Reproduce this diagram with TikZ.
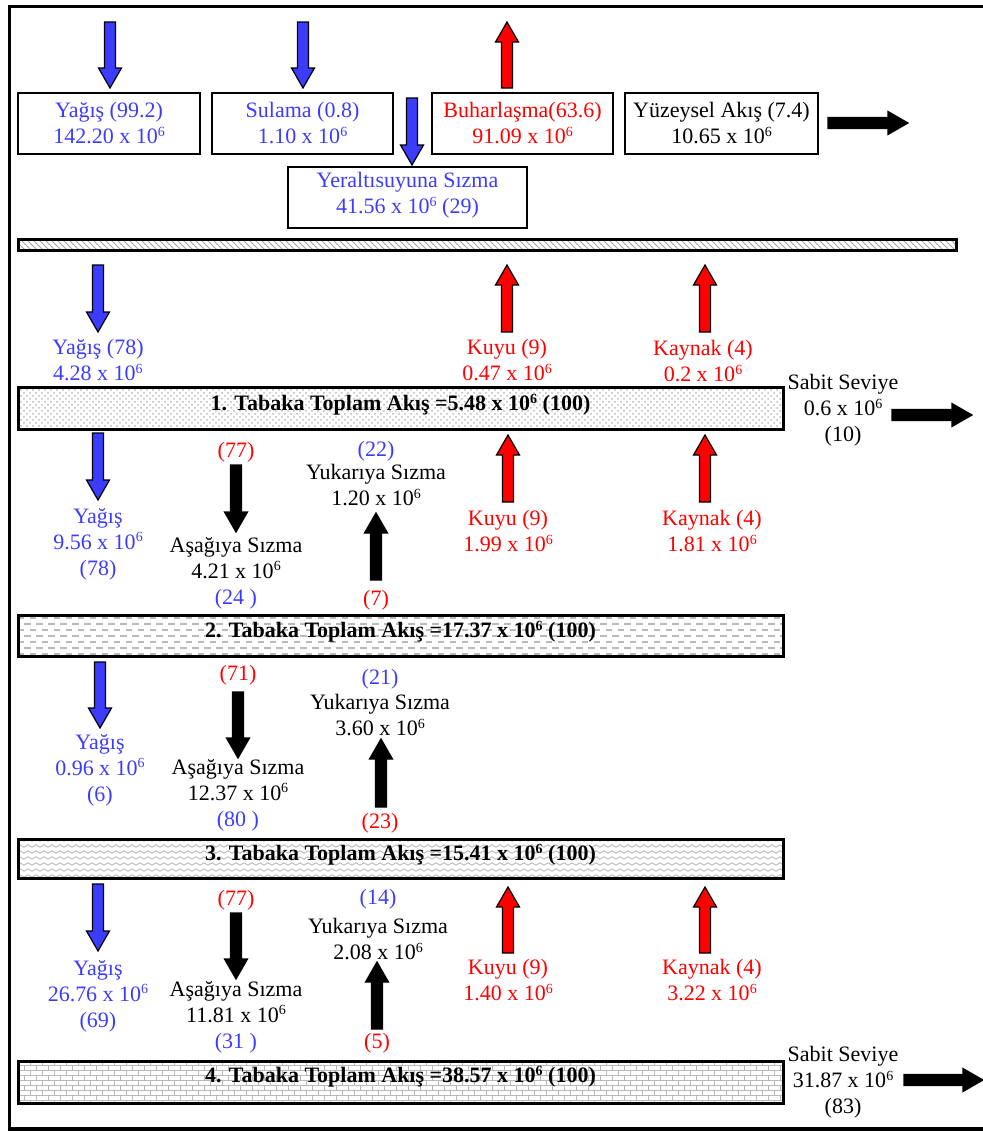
\documentclass[tikz,border=0pt]{standalone}
\usepackage{fontspec}
\setmainfont{Liberation Serif}
\usetikzlibrary{patterns}
\definecolor{rainblue}{RGB}{60,60,255}
\definecolor{lossred}{RGB}{255,0,0}
\newcommand{\tensix}{10\raisebox{3.6pt}{\fontsize{7}{7}\selectfont 6}}
\pgfdeclarepatternformonly{dashrows}{\pgfpoint{-1pt}{-1pt}}{\pgfpoint{7pt}{7pt}}{\pgfpoint{6pt}{6pt}}{%
  \pgfsetlinewidth{.6pt}%
  \pgfpathmoveto{\pgfpoint{0pt}{1.5pt}}\pgfpathlineto{\pgfpoint{3.5pt}{1.5pt}}%
  \pgfpathmoveto{\pgfpoint{3pt}{4.5pt}}\pgfpathlineto{\pgfpoint{6pt}{4.5pt}}%
  \pgfusepath{stroke}}
\pgfdeclarepatternformonly{zigzag}{\pgfpoint{-1pt}{-1pt}}{\pgfpoint{5pt}{4pt}}{\pgfpoint{4pt}{3pt}}{%
  \pgfsetlinewidth{.45pt}%
  \pgfpathmoveto{\pgfpoint{0pt}{.9pt}}\pgfpathlineto{\pgfpoint{2pt}{2.1pt}}\pgfpathlineto{\pgfpoint{4pt}{.9pt}}%
  \pgfusepath{stroke}}
\pgfdeclarepatternformonly{smallbricks}{\pgfpoint{-1pt}{-1pt}}{\pgfpoint{7pt}{6pt}}{\pgfpoint{6pt}{5pt}}{%
  \pgfsetlinewidth{.5pt}%
  \pgfpathmoveto{\pgfpoint{0pt}{0pt}}\pgfpathlineto{\pgfpoint{6pt}{0pt}}%
  \pgfpathmoveto{\pgfpoint{0pt}{2.5pt}}\pgfpathlineto{\pgfpoint{6pt}{2.5pt}}%
  \pgfpathmoveto{\pgfpoint{0pt}{0pt}}\pgfpathlineto{\pgfpoint{0pt}{2.5pt}}%
  \pgfpathmoveto{\pgfpoint{3pt}{2.5pt}}\pgfpathlineto{\pgfpoint{3pt}{5pt}}%
  \pgfusepath{stroke}}
\begin{document}
\begin{tikzpicture}[x=.5pt, y=-.5pt,
	every node/.style={font=\fontsize{11}{13}\selectfont, align=center, inner sep=0pt},
	title/.style={font=\fontsize{11}{13}\selectfont\bfseries},
	pics/blockarrow/.style={code={\filldraw[line width=.6pt] (-5.5,0) -- (5.5,0) -- (5.5,#1-20) -- (11.5,#1-20) -- (0,#1) -- (-11.5,#1-20) -- (-5.5,#1-20) -- cycle;}},
	rain/.style={fill=rainblue}, loss/.style={fill=lossred}, seep/.style={fill=black},
	box/.style={line width=1.2pt}, bar/.style={line width=1.5pt, pattern color=gray!55}]
	\useasboundingbox (0,0) rectangle (983,1131);
	\clip (0,0) rectangle (983,1131);
	\draw[line width=1.75pt] (9.5,6.5) rectangle (1000,1129);
	%yuzey
	\draw[box] (109,123.5)   node[text=rainblue] (yagis)  {Yağış (99.2)\\142.20 x \tensix}             ++(-91,-30.5)    rectangle ++(182,61);
	\draw[box] (302.5,123.5) node[text=rainblue] (sulama) {Sulama (0.8)\\1.10 x \tensix}               ++(-90.5,-30.5)  rectangle ++(181,61);
	\draw[box] (522.5,123.5) node[text=lossred]  (buhar)  {Buharlaşma(63.6)\\91.09 x \tensix}          ++(-90.5,-30.5)  rectangle ++(181,61);
	\draw[box] (721.5,123.5) node                (akis)   {Yüzeysel Akış (7.4)\\10.65 x \tensix}       ++(-96.5,-30.5)  rectangle ++(193,61);
	\draw[box] (407.5,195)   node[text=rainblue] (sizma)  {Yeraltısuyuna Sızma\\41.56 x \tensix{} (29)} ++(-119.5,-28)   rectangle ++(239,61);
	\draw[line width=1.5pt, pattern=north west lines, pattern color=gray!70] (18,239) rectangle (956,250);
	\pic[rain] at (110,22)  {blockarrow=66};
	\pic[rain] at (303,22)  {blockarrow=66};
	\pic[rain] at (412,98)  {blockarrow=67};
	\pic[loss, rotate=180] at (507,88) {blockarrow=66};
	\pic[seep, rotate=90]  at (828,123) {blockarrow=80};
	%tabakalar
	\draw[bar, pattern=crosshatch dots] (400.5,405)  node[title] (tab1) {1. Tabaka Toplam Akış =5.48 x \tensix{} (100)}  ++(-382.5,-18) rectangle ++(765,42);
	\draw[bar, pattern=dashrows]        (400.5,632)  node[title] (tab2) {2. Tabaka Toplam Akış =17.37 x \tensix{} (100)} ++(-382.5,-17) rectangle ++(765,41);
	\draw[bar, pattern=zigzag]          (400.5,855)  node[title] (tab3) {3. Tabaka Toplam Akış =15.41 x \tensix{} (100)} ++(-382.5,-16) rectangle ++(765,39);
	\draw[bar, pattern=smallbricks]     (400.5,1077) node[title] (tab4) {4. Tabaka Toplam Akış =38.57 x \tensix{} (100)} ++(-382.5,-16) rectangle ++(765,42);
	%1
	\pic[rain] at (98,265) {blockarrow=67};
	\pic[loss, rotate=180] at (507,332) {blockarrow=67};
	\pic[loss, rotate=180] at (705,332) {blockarrow=67};
	\pic[seep, rotate=90]  at (892,415) {blockarrow=80};
	\node[text=rainblue] (yagis1)  at (98,360)  {Yağış (78)\\4.28 x \tensix};
	\node[text=lossred]  (kuyu1)   at (507,360) {Kuyu (9)\\0.47 x \tensix};
	\node[text=lossred]  (kaynak1) at (703,361) {Kaynak (4)\\0.2 x \tensix};
	\node                (sabit1)  at (843,410) {Sabit Seviye\\0.6 x \tensix\\(10)};
	%2
	\pic[rain] at (98,433)  {blockarrow=67};
	\pic[seep] at (236,465) {blockarrow=67};
	\pic[seep, rotate=180] at (376,580) {blockarrow=67};
	\pic[loss, rotate=180] at (508,502) {blockarrow=67};
	\pic[loss, rotate=180] at (705,502) {blockarrow=67};
	\node[text=rainblue] (yagis2)  at (98,544)  {Yağış\\9.56 x \tensix\\(78)};
	\node[text=lossred]  (asp2)    at (236,452) {(77)};
	\node                (asagi2)  at (236,573) {Aşağıya Sızma\\4.21 x \tensix\\\textcolor{rainblue}{(24 )}};
	\node[text=rainblue] (yup2)    at (376,451) {(22)};
	\node                (yukari2) at (376,485) {Yukarıya Sızma\\1.20 x \tensix};
	\node[text=lossred]  (yalt2)   at (376,600) {(7)};
	\node[text=lossred]  (kuyu2)   at (508,531) {Kuyu (9)\\1.99 x \tensix};
	\node[text=lossred]  (kaynak2) at (712,531) {Kaynak (4)\\1.81 x \tensix};
	%3
	\pic[rain] at (100,662) {blockarrow=66};
	\pic[seep] at (238,692) {blockarrow=66};
	\pic[seep, rotate=180] at (381,807) {blockarrow=68};
	\node[text=rainblue] (yagis3)  at (100,770) {Yağış\\0.96 x \tensix\\(6)};
	\node[text=lossred]  (asp3)    at (238,675) {(71)};
	\node                (asagi3)  at (238,795) {Aşağıya Sızma\\12.37 x \tensix\\\textcolor{rainblue}{(80 )}};
	\node[text=rainblue] (yup3)    at (380,679) {(21)};
	\node                (yukari3) at (380,715) {Yukarıya Sızma\\3.60 x \tensix};
	\node[text=lossred]  (yalt3)   at (380,823) {(23)};
	%4
	\pic[rain] at (98,884)  {blockarrow=67};
	\pic[seep] at (236,913) {blockarrow=66};
	\pic[seep, rotate=180] at (377,1029) {blockarrow=67};
	\pic[loss, rotate=180] at (508,953)  {blockarrow=66};
	\pic[loss, rotate=180] at (705,953)  {blockarrow=66};
	\pic[seep, rotate=90]  at (904,1080) {blockarrow=79};
	\node[text=rainblue] (yagis4)  at (98,996)   {Yağış\\26.76 x \tensix\\(69)};
	\node[text=lossred]  (asp4)    at (236,900)  {(77)};
	\node                (asagi4)  at (236,1017) {Aşağıya Sızma\\11.81 x \tensix\\\textcolor{rainblue}{(31 )}};
	\node[text=rainblue] (yup4)    at (378,899)  {(14)};
	\node                (yukari4) at (378,939)  {Yukarıya Sızma\\2.08 x \tensix};
	\node[text=lossred]  (yalt4)   at (377,1043) {(5)};
	\node[text=lossred]  (kuyu4)   at (508,980)  {Kuyu (9)\\1.40 x \tensix};
	\node[text=lossred]  (kaynak4) at (712,980)  {Kaynak (4)\\3.22 x \tensix};
	\node                (sabit4)  at (843,1082) {Sabit Seviye\\31.87 x \tensix\\(83)};
\end{tikzpicture}
\end{document}
